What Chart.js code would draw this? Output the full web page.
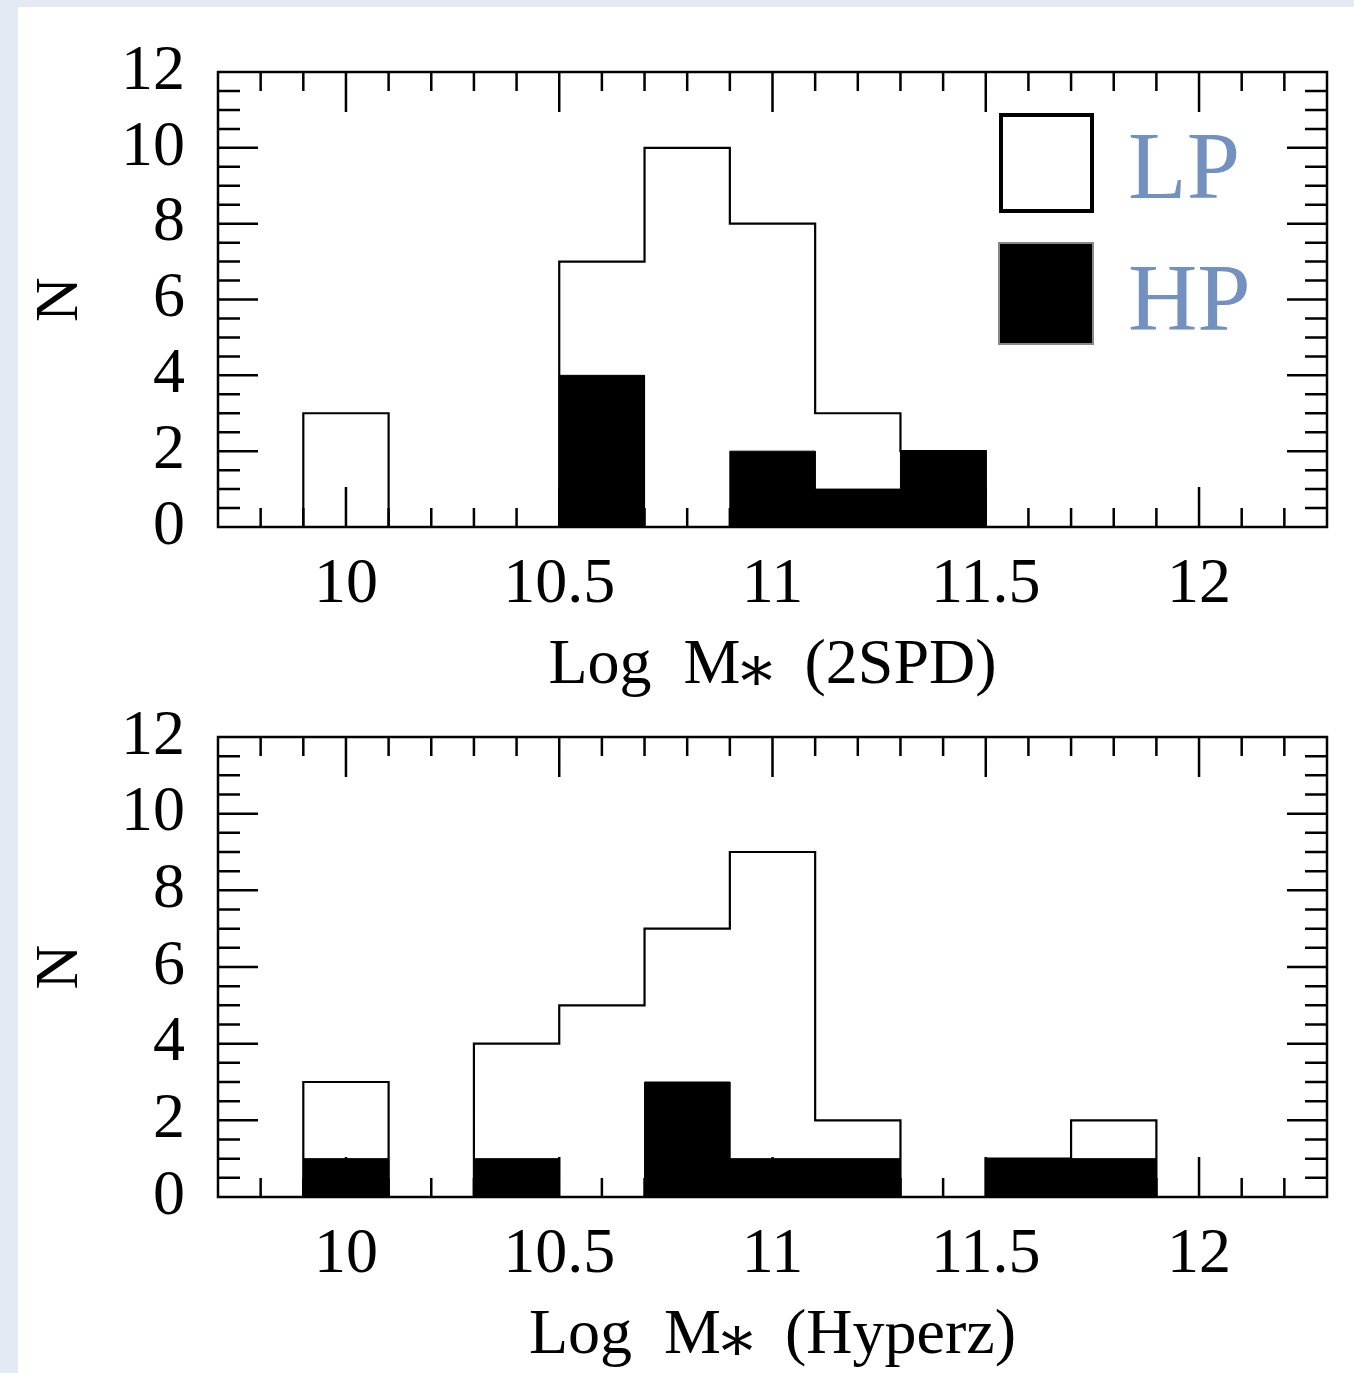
<!DOCTYPE html>
<html>
<head>
<meta charset="utf-8">
<script src="https://cdn.jsdelivr.net/npm/chart.js@4.4.1/dist/chart.umd.min.js"></script>
<style>
  html, body { margin: 0; padding: 0; }
  body { width: 1354px; height: 1373px; background: #e3eaf4; position: relative; overflow: hidden; }
  #sheet { position: absolute; left: 18px; top: 7px; width: 1336px; height: 1366px; background: #fff; }
  canvas { position: absolute; left: 0; }
  #top { top: 0; }
  #bottom { top: 665px; }
</style>
</head>
<body>
<div id="sheet">
  <canvas id="top" width="1336" height="693"></canvas>
  <canvas id="bottom" width="1336" height="701"></canvas>
</div>
<script>
// bin centres (bins are 0.2 wide)
const binCenters = [10.0, 10.2, 10.4, 10.6, 10.8, 11.0, 11.2, 11.4, 11.6, 11.8];
const binWidth = 0.2;
// top panel: 2SPD masses
const lp2spd = [3, 0, 0, 7, 10, 8, 3, 2, 0, 0];
const hp2spd = [0, 0, 0, 4, 0, 2, 1, 2, 0, 0];
// bottom panel: Hyperz masses
const lpHyperz = [3, 0, 4, 5, 7, 9, 2, 0, 1, 2];
const hpHyperz = [1, 0, 1, 0, 3, 1, 1, 0, 1, 1];
// axis labels
const xTickValues = [10, 10.5, 11, 11.5, 12];
const yTickValues = [0, 2, 4, 6, 8, 10, 12];
const legendNames = ["LP", "HP"];

const serif = "'Liberation Serif', 'DejaVu Serif', serif";
Chart.defaults.color = "#000";

// turn a histogram into the points of its step outline
function steps(values) {
  const pts = [{ x: binCenters[0] - binWidth / 2, y: 0 }];
  values.forEach((v, i) => {
    pts.push({ x: binCenters[i] - binWidth / 2, y: v });
    pts.push({ x: binCenters[i] + binWidth / 2, y: v });
  });
  pts.push({ x: binCenters[binCenters.length - 1] + binWidth / 2, y: 0 });
  return pts;
}

//frame with inward ticks on all four sides
const frameTicks = {
  id: "frameTicks",
  afterDatasetsDraw(chart) {
    const { ctx, chartArea: a, scales: { x, y } } = chart;
    ctx.save();
    ctx.strokeStyle = "#000";
    ctx.lineWidth = 2.5;
    ctx.beginPath();
    for (let k = 98; k <= 122; k++) {
      const px = x.getPixelForValue(k / 10);
      const len = k % 5 === 0 ? 40 : 19;
      ctx.moveTo(px, a.bottom); ctx.lineTo(px, a.bottom - len);
      ctx.moveTo(px, a.top); ctx.lineTo(px, a.top + len);
    }
    for (let k = 1; k < 24; k++) {
      const py = y.getPixelForValue(k / 2);
      const len = k % 4 === 0 ? 40 : 22;
      ctx.moveTo(a.left, py); ctx.lineTo(a.left + len, py);
      ctx.moveTo(a.right, py); ctx.lineTo(a.right - len, py);
    }
    ctx.stroke();
    ctx.strokeRect(a.left, a.top, a.right - a.left, a.bottom - a.top);
    ctx.restore();
  }
};

// legend boxes, only in the top panel
const boxLegend = {
  id: "boxLegend",
  afterDraw(chart) {
    const ctx = chart.ctx;
    ctx.save();
    ctx.lineWidth = 4;
    ctx.strokeStyle = "#000";
    ctx.strokeRect(983, 108, 91, 96);
    ctx.fillStyle = "#000";
    ctx.fillRect(981, 236, 94, 101);
    ctx.lineWidth = 2;
    ctx.strokeStyle = "#888";
    ctx.strokeRect(981, 236, 94, 101);
    ctx.fillStyle = "#7391c0";
    ctx.font = "96px " + serif;
    ctx.textBaseline = "alphabetic";
    ctx.fillText(legendNames[0], 1110, 191);
    ctx.fillText(legendNames[1], 1110, 323);
    ctx.restore();
  }
};

function makePanel(id, lp, hp, title, topPad, xHeight, titlePad) {
  return new Chart(document.getElementById(id), {
    type: "line",
    data: {
      datasets: [
        {
          label: legendNames[0],
          data: steps(lp),
          borderColor: "#000",
          borderWidth: 2.2,
          pointRadius: 0,
          fill: false,
          tension: 0,
        },
        {
          label: legendNames[1],
          data: steps(hp),
          borderColor: "#000",
          borderWidth: 1,
          backgroundColor: "#000",
          pointRadius: 0,
          fill: "origin",
          tension: 0,
        },
      ],
    },
    plugins: id === "top" ? [frameTicks, boxLegend] : [frameTicks],
    options: {
      responsive: false,
      devicePixelRatio: 1,
      animation: false,
      layout: { padding: { left: 0, top: topPad, right: 27, bottom: 0 } },
      plugins: { legend: { display: false }, tooltip: { enabled: false } },
      scales: {
        x: {
          type: "linear",
          min: 9.7,
          max: 12.3,
          grid: { display: false, drawTicks: false },
          border: { display: false },
          afterBuildTicks: (s) => { s.ticks = xTickValues.map((v) => ({ value: v })); },
          afterFit: (s) => { s.height = xHeight; },
          ticks: {
            padding: 26,
            maxRotation: 0,
            autoSkip: false,
            font: { family: serif, size: 64, lineHeight: 1 },
            callback: (v) => String(v),
          },
          title: {
            display: true,
            text: title,
            font: { family: serif, size: 64, lineHeight: 1 },
            padding: { top: 0, bottom: titlePad },
          },
        },
        y: {
          min: 0,
          max: 12,
          grid: { display: false, drawTicks: false },
          border: { display: false },
          afterBuildTicks: (s) => { s.ticks = yTickValues.map((v) => ({ value: v })); },
          afterFit: (s) => { s.width = 200; },
          ticks: {
            padding: 33,
            autoSkip: false,
            font: { family: serif, size: 64, lineHeight: 1 },
          },
          title: {
            display: true,
            text: "N",
            font: { family: serif, size: 62, lineHeight: 1 },
            padding: { top: 12, bottom: 0 },
          },
        },
      },
    },
  });
}

makePanel("top", lp2spd, hp2spd, "Log  M\u204E  (2SPD)", 61, 173, 2);
makePanel("bottom", lpHyperz, hpHyperz, "Log  M\u204E  (Hyperz)", 44, 176, 5);
</script>
</body>
</html>
